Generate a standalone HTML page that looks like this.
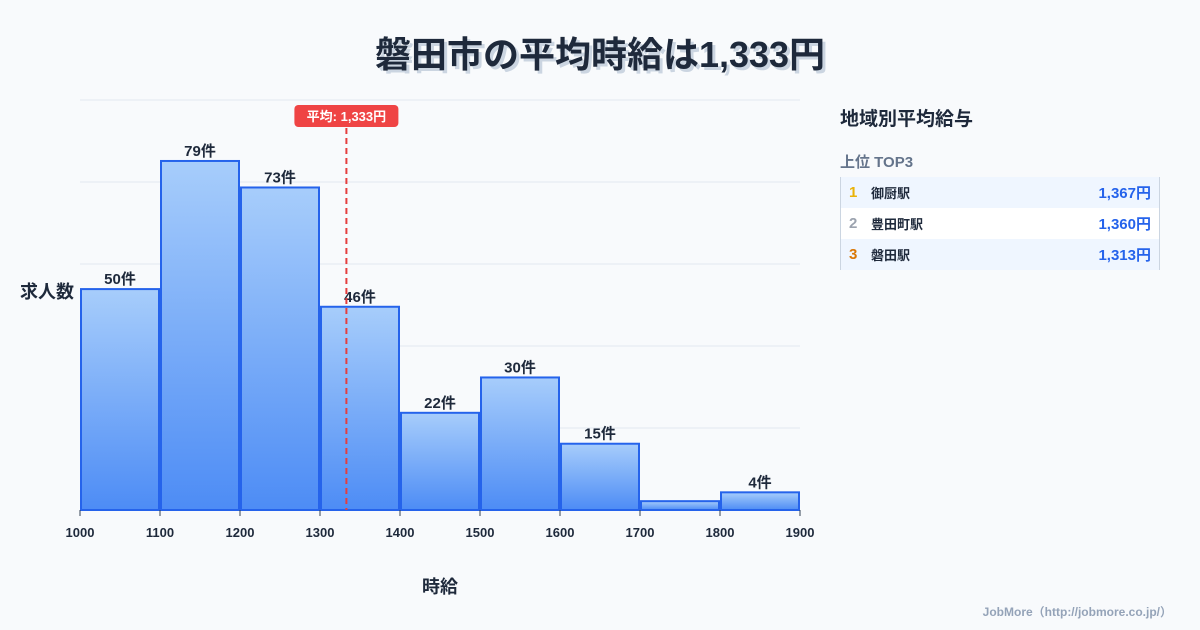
<!DOCTYPE html>
<html><head><meta charset="utf-8"><style>
body{margin:0;width:1200px;height:630px;background:#f8fafc;font-family:"Liberation Sans","Noto Sans CJK JP",sans-serif;overflow:hidden;position:relative}
.title{position:absolute;top:26px;left:0;width:1200px;text-align:center;font-size:36px;font-weight:bold;color:#1e293b;text-shadow:3px 3px 0 #cbd5e1}
.side{position:absolute;left:840px;top:104px;width:320px}
.side h3{margin:0;font-size:19px;color:#1e293b;font-weight:bold}
.side .sub{margin-top:20px;font-size:15px;color:#64748b;font-weight:bold}
.tbl{margin-top:5px;border-left:1px solid #cbd5e1;border-right:1px solid #cbd5e1}
.row{height:31px;display:flex;align-items:center;font-size:14px;color:#1e293b;padding:0 8px}
.row:nth-child(odd){background:#eff6ff}.row:nth-child(even){background:#fff}
.row .n{width:22px;font-size:15px;font-weight:bold}
.row .nm{flex:1;font-weight:bold;font-size:13px}
.row .v{color:#2563eb;font-weight:bold;font-size:15px}
.foot{position:absolute;right:28px;bottom:10px;font-size:12px;color:#94a3b8;font-weight:bold}
</style></head><body>
<div class="title">磐田市の平均時給は1,333円</div>
<svg id="chart" width="820" height="630" style="position:absolute;left:0;top:0">
<defs><linearGradient id="g" x1="0" y1="0" x2="0" y2="1"><stop offset="0" stop-color="#a7cdfb"/><stop offset="1" stop-color="#4d8cf5"/></linearGradient></defs>
</svg>
<div class="side">
<h3>地域別平均給与</h3>
<div class="sub">上位 TOP3</div>
<div class="tbl">
<div class="row"><span class="n" style="color:#eab308">1</span><span class="nm">御厨駅</span><span class="v">1,367円</span></div>
<div class="row"><span class="n" style="color:#9ca3af">2</span><span class="nm">豊田町駅</span><span class="v">1,360円</span></div>
<div class="row"><span class="n" style="color:#d97706">3</span><span class="nm">磐田駅</span><span class="v">1,313円</span></div>
</div></div>
<div class="foot">JobMore（http://jobmore.co.jp/）</div>
<script>
const binStarts=[1000,1100,1200,1300,1400,1500,1600,1700,1800];
const counts=[50,79,73,46,22,30,15,2,4];
const xTicks=[1000,1100,1200,1300,1400,1500,1600,1700,1800,1900];
const avgWage=1333;
const yMax=92.8;
const svg=document.getElementById('chart');const NS='http://www.w3.org/2000/svg';
const X0=80,X1=800,Y0=510,Y1=100;
const xs=v=>X0+(v-1000)/(1900-1000)*(X1-X0);
const ys=v=>Y0-v/yMax*(Y0-Y1);
function mk(t,a,txt){const e=document.createElementNS(NS,t);for(const k in a)e.setAttribute(k,a[k]);if(txt!=null)e.textContent=txt;svg.appendChild(e);return e;}
for(let i=0;i<=5;i++){const y=Y0-i*(Y0-Y1)/5;
const l=mk('line',{x1:X0,x2:X1,y1:y,y2:y,stroke:'#e2e8f0','stroke-width':1});

}
binStarts.forEach((b,i)=>{const x=xs(b)+1,w=xs(b+100)-xs(b)-2,y=ys(counts[i]);
const r=mk('rect',{x:x,y:y,width:w,height:Y0-y,fill:'url(#g)',stroke:'#2563eb','stroke-width':2});


if(counts[i]>=3){const t=mk('text',{x:xs(b+50),y:y-5,'text-anchor':'middle','font-size':15,'font-weight':'bold',fill:'#1e293b'},counts[i]+'件');

}});
xTicks.forEach(v=>{const x=xs(v);
const tl=mk('line',{x1:x,x2:x,y1:Y0,y2:Y0+6,stroke:'#334155','stroke-width':1});


const t=mk('text',{x:x,y:537,'text-anchor':'middle','font-size':13,'font-weight':'bold',fill:'#1e293b'},v);

});
const ax=xs(avgWage);
const al=mk('line',{x1:ax,x2:ax,y1:128,y2:Y0,stroke:'#e53e3e','stroke-width':2,'stroke-dasharray':'6,4'});


const ab=mk('rect',{x:ax-52,y:105,width:104,height:22,rx:4,fill:'#ef4444'});


const at=mk('text',{x:ax,y:121,'text-anchor':'middle','font-size':13,'font-weight':'bold',fill:'#fff'},'平均: 1,333円');


const yt=mk('text',{x:20,y:298,'font-size':18,'font-weight':'bold',fill:'#1e293b'},'求人数');


const xt=mk('text',{x:440,y:593,'text-anchor':'middle','font-size':18,'font-weight':'bold',fill:'#1e293b'},'時給');


</script>
</body></html>
